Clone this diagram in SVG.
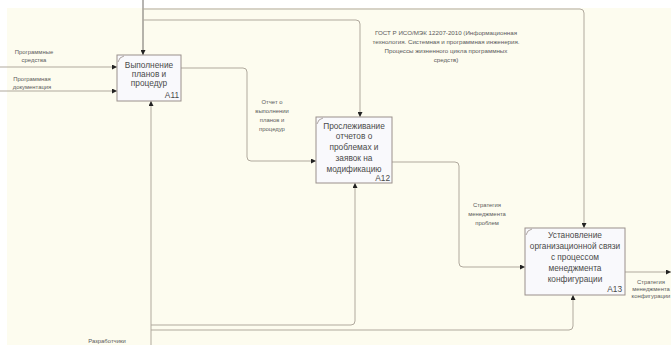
<svg xmlns="http://www.w3.org/2000/svg" width="671" height="345" viewBox="0 0 671 345">
<defs>
<style>
.box{fill:#f9f9fc;stroke:#9a8f8c;stroke-width:1}
.tick{fill:none;stroke:#9a8f8c;stroke-width:0.8}
.bt{font-family:"Liberation Sans",Arial,sans-serif;font-size:8.3px;fill:#4a4a4a;text-anchor:middle}
.num{font-family:"Liberation Sans",Arial,sans-serif;font-size:8.3px;fill:#4a4a4a;text-anchor:end}
.lb{font-family:"Liberation Sans",Arial,sans-serif;font-size:5.9px;fill:#5a5a5a;text-anchor:middle}
.ln{fill:none;stroke:#b0a99d;stroke-width:1}
.dk{stroke:#6e6a66}
</style>
<marker id="ah" viewBox="0 0 10 10" refX="10" refY="5" markerWidth="6" markerHeight="5" markerUnits="userSpaceOnUse" orient="auto">
<path d="M0,0 L10,5 L0,10 Z" fill="#222"/>
</marker>
</defs>
<rect x="0" y="0" width="671" height="345" fill="#ffffff"/>
<rect x="7" y="8" width="664" height="337" fill="#fdfcef"/>
<g id="connectors">
<path class="ln dk" d="M143,0 V55" marker-end="url(#ah)"/>
<path class="ln" d="M143,9 H580 Q584,9 584,13 V228" marker-end="url(#ah)"/>
<path class="ln" d="M143,20 H356 Q360,20 360,24 V117" marker-end="url(#ah)"/>
<path class="ln" d="M0,67 H117" marker-end="url(#ah)"/>
<path class="ln" d="M0,91 H117" marker-end="url(#ah)"/>
<path class="ln" d="M181,68 H243 Q247,68 247,72 V157 Q247,161 251,161 H316" marker-end="url(#ah)"/>
<path class="ln" d="M392,162 H455 Q459,162 459,166 V263 Q459,267 463,267 H525" marker-end="url(#ah)"/>
<path class="ln" d="M625,272 H671" marker-end="url(#ah)"/>
<path class="ln" d="M151,345 V101" marker-end="url(#ah)"/>
<path class="ln" d="M151,325 H351 Q355,325 355,321 V183" marker-end="url(#ah)"/>
<path class="ln" d="M151,330 H569 Q573,330 573,326 V295" marker-end="url(#ah)"/>
<text class="lb" x="34" y="54">Программные</text>
<text class="lb" x="34" y="62">средства</text>
<text class="lb" x="32" y="81">Программная</text>
<text class="lb" x="32" y="89">документация</text>
<text class="lb" x="446" y="35" style="font-size:6.2px">ГОСТ Р ИСО/МЭК 12207-2010 (Информационная</text>
<text class="lb" x="446" y="44" style="font-size:6.2px">технология. Системная и программная инженерия.</text>
<text class="lb" x="446" y="53" style="font-size:6.2px">Процессы жизненного цикла программных</text>
<text class="lb" x="446" y="62" style="font-size:6.2px">средств)</text>
<text class="lb" x="272" y="104">Отчет о</text>
<text class="lb" x="272" y="113">выполнении</text>
<text class="lb" x="272" y="122">планов и</text>
<text class="lb" x="272" y="131">процедур</text>
<text class="lb" x="487" y="207">Стратегия</text>
<text class="lb" x="487" y="216">менеджмента</text>
<text class="lb" x="487" y="225">проблем</text>
<text class="lb" x="651" y="284">Стратегия</text>
<text class="lb" x="651" y="291">менеджмента</text>
<text class="lb" x="651" y="298">конфигурации</text>
<text class="lb" x="107" y="343">Разработчики</text>
</g>
<g id="A11">
<rect class="box" x="117" y="55" width="64" height="46"/>
<path class="tick" d="M118,62 Q119,57 124,56"/>
<text class="bt" x="149" y="68">Выполнение</text>
<text class="bt" x="149" y="77">планов и</text>
<text class="bt" x="149" y="86">процедур</text>
<text class="num" x="179" y="98">A11</text>
</g>
<g id="A12">
<rect class="box" x="316" y="117" width="76" height="66"/>
<path class="tick" d="M317,124 Q318,119 323,118"/>
<text class="bt" x="354" y="129">Прослеживание</text>
<text class="bt" x="354" y="139">отчетов о</text>
<text class="bt" x="354" y="150">проблемах и</text>
<text class="bt" x="354" y="161">заявок на</text>
<text class="bt" x="354" y="172">модификацию</text>
<text class="num" x="390" y="181">A12</text>
</g>
<g id="A13">
<rect class="box" x="525" y="228" width="100" height="67"/>
<path class="tick" d="M526,235 Q527,230 532,229"/>
<text class="bt" x="575" y="238">Установление</text>
<text class="bt" x="575" y="249">организационной связи</text>
<text class="bt" x="575" y="260">с процессом</text>
<text class="bt" x="575" y="271">менеджмента</text>
<text class="bt" x="575" y="282">конфигурации</text>
<text class="num" x="622" y="292">A13</text>
</g>
</svg>
